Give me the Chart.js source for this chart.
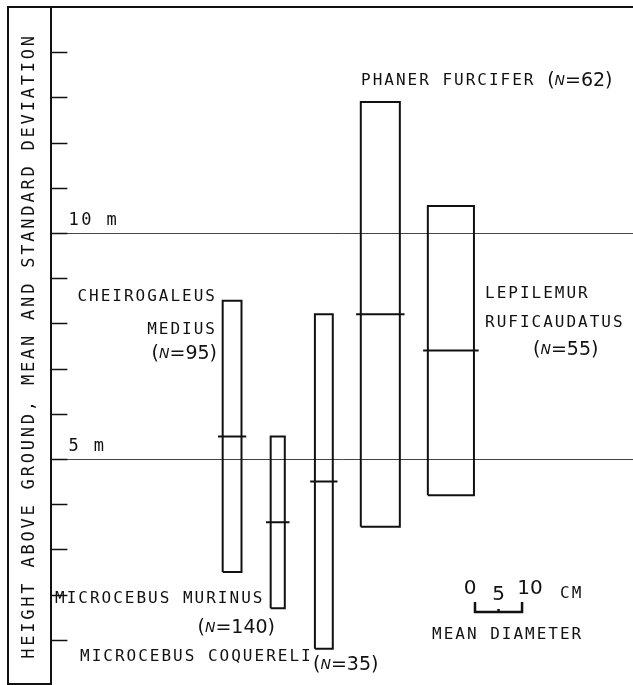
<!DOCTYPE html>
<html>
<head>
<meta charset="utf-8">
<script src="https://cdn.jsdelivr.net/npm/chart.js@4"></script>
<style>
html, body { margin: 0; padding: 0; background: #fff; }
#wrap { width: 633px; height: 685px; }
</style>
</head>
<body>
<div id="wrap"><canvas id="heightChart"></canvas></div>
<script>
// height above ground (m): mean +- sd, box width = mean support diameter (cm)
var species = ['CHEIROGALEUS MEDIUS', 'MICROCEBUS MURINUS', 'MICROCEBUS COQUERELI', 'PHANER FURCIFER', 'LEPILEMUR RUFICAUDATUS'];
var sampleN = [95, 140, 35, 62, 55];
var meanHeight = [5.5, 3.6, 4.5, 8.2, 7.4];
var sdHeight = [3.0, 1.9, 3.7, 4.7, 3.2];
var meanDiameter = [4.0, 3.0, 3.8, 8.3, 9.8];
var heightTicks = [5, 10];
var heightTickLabels = ['5 m', '10 m'];
var scaleBarTicks = [0, 5, 10];

// layout only: where each box sits on the x axis (x axis is in cm of drawing)
var boxCentre = [38.4, 48.1, 57.9, 69.9, 84.9];
var meanOverhang = 1; // cm each side

// label placement in pixels, words index into the species name
var labelLayout = [
  [{x: 217, y: 297, align: 'right', words: [0]}, {x: 217, y: 330, align: 'right', words: [1]}, {x: 217, y: 354, align: 'right', n: true}],
  [{x: 55, y: 599, align: 'left', words: [0, 1]}, {x: 275, y: 628, align: 'right', n: true}],
  [{x: 80, y: 657, align: 'left', words: [0, 1]}, {x: 313, y: 665, align: 'left', n: true}],
  [{x: 361, y: 81, align: 'left', words: [0, 1], n: true}],
  [{x: 485, y: 294, align: 'left', words: [0]}, {x: 485, y: 323, align: 'left', words: [1]}, {x: 533, y: 350, align: 'left', n: true}]
];

var INK = '#111';
var MONO = '"DejaVu Sans Mono", "Liberation Mono", monospace';
var SANS = '"DejaVu Sans", "Liberation Sans", sans-serif';

var datasets = [];
for (var i = 0; i < species.length; i++) {
  var lo = meanHeight[i] - sdHeight[i];
  var hi = meanHeight[i] + sdHeight[i];
  var l = boxCentre[i] - meanDiameter[i] / 2;
  var r = boxCentre[i] + meanDiameter[i] / 2;
  datasets.push({
    label: species[i] + ' sd',
    data: [{x: l, y: lo}, {x: r, y: lo}, {x: r, y: hi}, {x: l, y: hi}, {x: l, y: lo}]
  });
  datasets.push({
    label: species[i] + ' mean',
    data: [{x: l - meanOverhang, y: meanHeight[i]}, {x: r + meanOverhang, y: meanHeight[i]}]
  });
}
datasets.forEach(function (d) {
  d.showLine = true;
  d.borderColor = INK;
  d.borderWidth = 2;
  d.pointRadius = 0;
  d.fill = false;
  d.tension = 0;
  d.borderJoinStyle = 'miter';
});

function nRuns(n) {
  return [['(', '19px ' + SANS], ['N', 'italic 14px ' + SANS], ['=' + n + ')', '19px ' + SANS]];
}

function drawRuns(ctx, runs, x, y, align) {
  var total = 0;
  runs.forEach(function (r) { ctx.font = r[1]; ctx.letterSpacing = r[2] || '0px'; total += ctx.measureText(r[0]).width; });
  var cx = align === 'right' ? x - total : x;
  ctx.textAlign = 'left';
  runs.forEach(function (r) {
    ctx.font = r[1];
    ctx.letterSpacing = r[2] || '0px';
    ctx.fillText(r[0], cx, y);
    cx += ctx.measureText(r[0]).width;
  });
}

var decor = {
  id: 'decor',
  beforeDraw: function (chart) {
    chart.ctx.letterSpacing = '2.8px';
  },
  afterDraw: function (chart) {
    var ctx = chart.ctx;
    var ys = chart.scales.y, xs = chart.scales.x;
    var area = chart.chartArea;
    ctx.save();
    ctx.strokeStyle = INK;
    ctx.fillStyle = INK;

    // box round the axis title
    ctx.lineWidth = 2;
    ctx.beginPath();
    ctx.moveTo(area.left, area.top);
    ctx.lineTo(8, area.top);
    ctx.lineTo(8, 684);
    ctx.lineTo(area.left, 684);
    ctx.stroke();

    // short inward ticks every metre
    ctx.lineWidth = 1.5;
    for (var m = 1; m < ys.max; m++) {
      var py = Math.round(ys.getPixelForValue(m)) + 0.5;
      ctx.beginPath();
      ctx.moveTo(area.left, py);
      ctx.lineTo(area.left + 16, py);
      ctx.stroke();
    }

    // 5 m / 10 m labels sitting above their grid lines
    ctx.textBaseline = 'middle';
    ctx.textAlign = 'left';
    ctx.font = '17px ' + MONO;
    ctx.letterSpacing = '2.5px';
    heightTicks.forEach(function (v, k) {
      ctx.fillText(heightTickLabels[k], area.left + 17, ys.getPixelForValue(v) - 12);
    });

    // species labels
    labelLayout.forEach(function (lines, i) {
      var words = species[i].split(' ');
      lines.forEach(function (ln) {
        var runs = [];
        if (ln.words) {
          var txt = ln.words.map(function (w) { return words[w]; }).join(' ');
          runs.push([txt + (ln.n ? ' ' : ''), '16px ' + MONO, '2px']);
        }
        if (ln.n) runs = runs.concat(nRuns(sampleN[i]));
        drawRuns(ctx, runs, ln.x, ln.y, ln.align);
      });
    });

    // mean diameter scale bar
    var cm = xs.getPixelForValue(1) - xs.getPixelForValue(0);
    var bx = 475, by = 612;
    ctx.lineWidth = 2.5;
    ctx.beginPath();
    ctx.moveTo(bx, by - 10);
    ctx.lineTo(bx, by);
    ctx.lineTo(bx + 10 * cm, by);
    ctx.lineTo(bx + 10 * cm, by - 10);
    ctx.moveTo(bx + 5 * cm, by);
    ctx.lineTo(bx + 5 * cm, by - 3);
    ctx.stroke();
    ctx.letterSpacing = '0px';
    ctx.font = '20px ' + SANS;
    ctx.textAlign = 'center';
    scaleBarTicks.forEach(function (t, k) {
      var dx = k === 0 ? -5 : (k === 2 ? 8 : 0);
      ctx.fillText(String(t), bx + t * cm + dx, k === 1 ? 595 : 589);
    });
    ctx.font = '16px ' + MONO;
    ctx.letterSpacing = '2px';
    ctx.textAlign = 'left';
    ctx.fillText('CM', 560, 594);
    ctx.fillText('MEAN DIAMETER', 432, 635);
    ctx.restore();
  }
};

new Chart(document.getElementById('heightChart'), {
  type: 'scatter',
  data: { datasets: datasets },
  plugins: [decor],
  options: {
    responsive: true,
    maintainAspectRatio: false,
    animation: false,
    layout: { padding: { left: 7, top: 7, right: 0, bottom: 0 } },
    plugins: { legend: { display: false }, tooltip: { enabled: false } },
    scales: {
      x: {
        type: 'linear',
        position: 'top',
        min: 0,
        max: 123.6,
        ticks: { display: false },
        grid: { display: false, drawTicks: false },
        border: { display: true, color: INK, width: 2 }
      },
      y: {
        type: 'linear',
        min: 0,
        max: 15,
        afterBuildTicks: function (scale) {
          scale.ticks = heightTicks.map(function (v) { return { value: v }; });
        },
        ticks: { display: false },
        grid: { color: '#444', lineWidth: 1, drawTicks: false },
        border: { display: true, color: INK, width: 2 },
        title: {
          display: true,
          text: 'HEIGHT ABOVE GROUND, MEAN AND STANDARD DEVIATION',
          color: INK,
          font: { family: MONO, size: 17 },
          padding: { top: 12, bottom: 12 }
        }
      }
    }
  }
});
</script>
</body>
</html>
